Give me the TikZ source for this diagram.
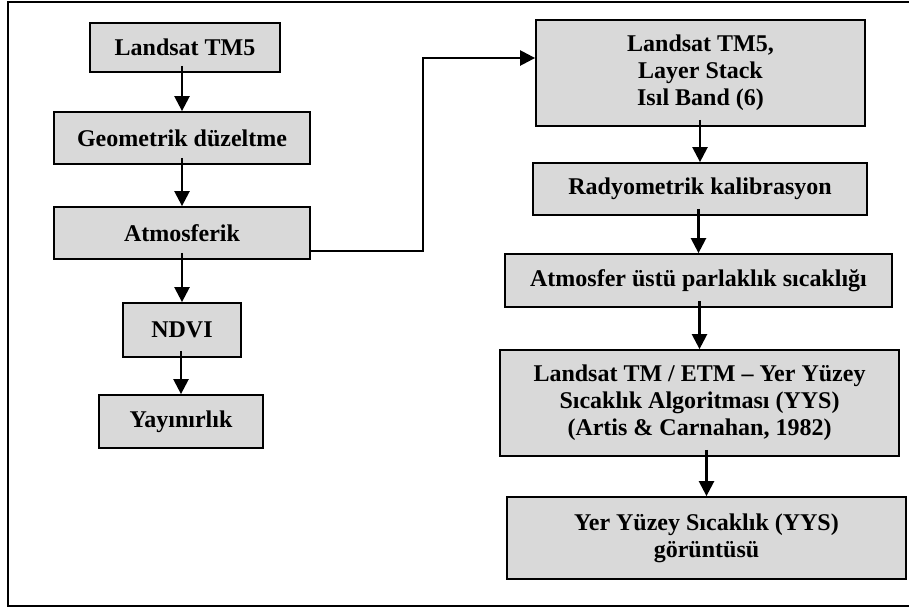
\documentclass[tikz,border=0pt]{standalone}
\usepackage{fontspec}
\setmainfont{Liberation Serif}
\usetikzlibrary{arrows.meta}
\definecolor{boxgray}{RGB}{217,217,217}
\begin{document}
\begin{tikzpicture}[x=0.5pt, y=-0.5pt,
        procbox/.style={draw, line width=0.9pt, fill=boxgray, inner sep=0pt, align=center,
            font=\fontsize{12}{13.5}\selectfont\bfseries},
        flowarrow/.style={line width=1.2pt, -{Triangle[width=7.5pt, length=7.5pt]}}]
        \clip (0,0) rectangle (909,607);
        % Frame round the chart
        \draw[line width=1.2pt] (8,2) rectangle (915,606);
        
        % Left column
        \node[procbox, minimum width=95pt, minimum height=24.5pt] (tm5) at (185,47.5) {Landsat TM5};
        \node[procbox, minimum width=128pt, minimum height=26pt] (geo) at (182,138) {Geometrik düzeltme};
        \node[procbox, minimum width=128pt, minimum height=26pt] (atm) at (182,233) {Atmosferik};
        \node[procbox, minimum width=59pt, minimum height=27pt] (ndvi) at (182,330) {NDVI};
        \node[procbox, minimum width=82pt, minimum height=26.5pt] (yay) at (181,421.5) {Yayınırlık};
        
        % Right column
        \node[procbox, minimum width=164.5pt, minimum height=53pt] (stack) at (700.5,73) {Landsat TM5,\\Layer Stack\\Isıl Band (6)};
        \node[procbox, minimum width=167pt, minimum height=26pt] (rad) at (700,189) {Radyometrik kalibrasyon};
        \node[procbox, minimum width=193.5pt, minimum height=26.5pt] (toa) at (698.5,280.5) {Atmosfer üstü parlaklık sıcaklığı};
        \node[procbox, minimum width=199.5pt, minimum height=53pt] (lst) at (699.5,403) {Landsat TM / ETM – Yer Yüzey\\Sıcaklık Algoritması (YYS)\\(Artis \& Carnahan, 1982)};
        \node[procbox, minimum width=199.5pt, minimum height=41pt] (out) at (706.5,538) {Yer Yüzey Sıcaklık (YYS)\\görüntüsü};
        
        % Arrows down each column
        \foreach \a/\b in {tm5/geo, geo/atm, atm/ndvi, ndvi/yay, stack/rad, rad/toa, toa/lst, lst/out} {
            \draw[flowarrow] ([yshift=3.5pt]\b.north |- \a.south) -- (\b.north);
        }
        
        % Link from Atmosferik to the thermal band
        \coordinate (turn) at (423,251);
        \draw[flowarrow] (atm.east |- turn) -- (turn) |- ([yshift=7.5pt]stack.west);
        
    \end{tikzpicture}
\end{document}
